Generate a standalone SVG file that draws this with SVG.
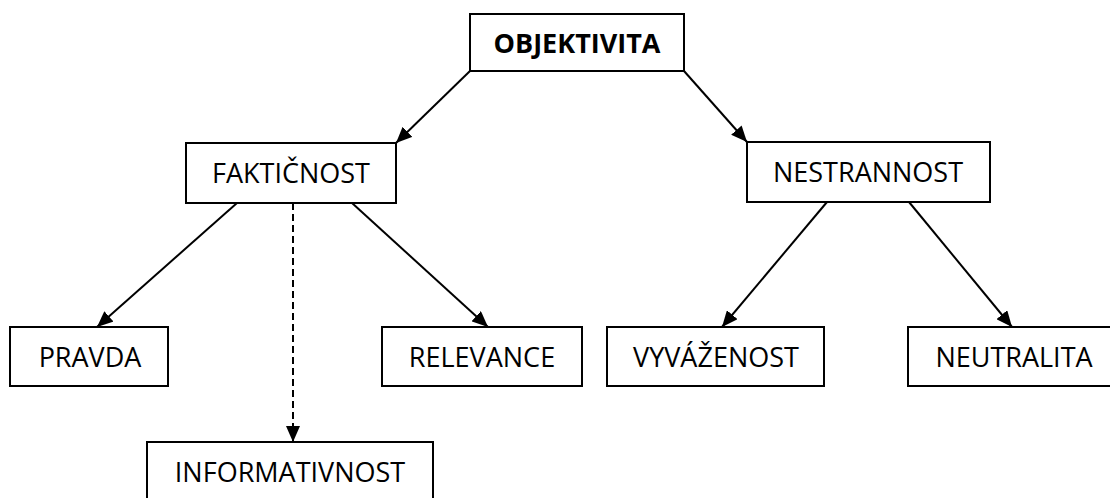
<svg xmlns="http://www.w3.org/2000/svg" width="1110" height="498" viewBox="0 0 1110 498">
<defs>
<marker id="ah" markerUnits="userSpaceOnUse" markerWidth="18" markerHeight="14" refX="16" refY="7" orient="auto">
<path d="M0,0 L16,7 L0,14 Z" fill="#000"/>
</marker>
<style>
.box{fill:#fff;stroke:#000;stroke-width:2}
.t{font-family:"Open Sans","Noto Sans",sans-serif;font-size:27px;text-anchor:middle;fill:#000}
.b{font-weight:bold}
.c{stroke:#000;stroke-width:2;fill:none;marker-end:url(#ah)}
.d{stroke-dasharray:7 4}
</style>
</defs>
<rect width="1110" height="498" fill="#fff"/>
<g id="connectors">
<line class="c" x1="470" y1="71" x2="396" y2="143"/>
<line class="c" x1="684" y1="71" x2="747" y2="142"/>
<line class="c" x1="237" y1="203" x2="97" y2="327"/>
<line class="c d" x1="293" y1="203" x2="293" y2="442"/>
<line class="c" x1="352" y1="203" x2="488" y2="327"/>
<line class="c" x1="827" y1="202" x2="722" y2="327"/>
<line class="c" x1="909" y1="202" x2="1012" y2="327"/>
</g>
<g id="objektivita">
<rect class="box" x="470" y="14" width="214" height="57"/>
<text class="t b" x="577" y="53">OBJEKTIVITA</text>
</g>
<g id="fakticnost">
<rect class="box" x="186" y="143" width="210" height="60"/>
<text class="t" x="291" y="183">FAKTIČNOST</text>
</g>
<g id="nestrannost">
<rect class="box" x="747" y="142" width="243" height="60"/>
<text class="t" x="868" y="182">NESTRANNOST</text>
</g>
<g id="pravda">
<rect class="box" x="10" y="327" width="158" height="59"/>
<text class="t" x="90" y="367">PRAVDA</text>
</g>
<g id="relevance">
<rect class="box" x="382" y="327" width="200" height="59"/>
<text class="t" x="482" y="367">RELEVANCE</text>
</g>
<g id="vyvazenost">
<rect class="box" x="607" y="327" width="217" height="59"/>
<text class="t" x="716" y="367">VYVÁŽENOST</text>
</g>
<g id="neutralita">
<rect class="box" x="908" y="327" width="212" height="59"/>
<text class="t" x="1014" y="367">NEUTRALITA</text>
</g>
<g id="informativnost">
<rect class="box" x="147" y="442" width="286" height="60"/>
<text class="t" x="290" y="482">INFORMATIVNOST</text>
</g>
</svg>
